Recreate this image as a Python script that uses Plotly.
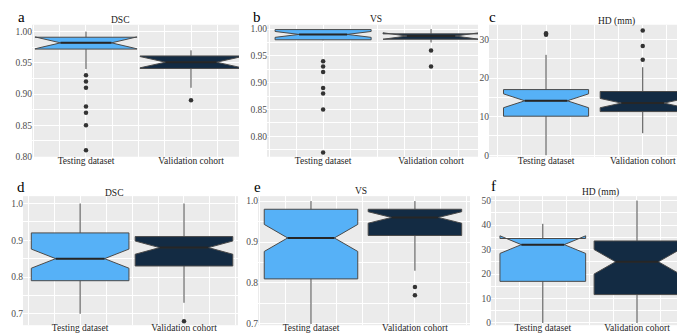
import plotly.graph_objects as go

# ---------------- data ----------------
categories = ["Testing dataset", "Validation cohort"]
positions = [1, 2]
panel_letters = ["a", "b", "c", "d", "e", "f"]
panel_titles = ["DSC", "VS", "HD (mm)", "DSC", "VS", "HD (mm)"]

# each list: [Testing dataset, Validation cohort]
a_lower = [0.94, 0.91]
a_q1 = [0.972, 0.941]
a_median = [0.982, 0.951]
a_q3 = [0.991, 0.961]
a_upper = [1.00, 0.97]
a_notch = [0.0095, 0.009]
a_out_test = [0.93, 0.92, 0.91, 0.88, 0.87, 0.85, 0.81]
a_out_val = [0.89]

b_lower = [0.979, 0.975]
b_q1 = [0.980, 0.981]
b_median = [0.990, 0.987]
b_q3 = [0.999, 0.991]
b_upper = [1.00, 1.00]
b_notch = [0.0055, 0.006]
b_out_test = [0.94, 0.93, 0.92, 0.89, 0.88, 0.85, 0.77]
b_out_val = [0.96, 0.93]

c_lower = [0.0, 5.7]
c_q1 = [10.1, 11.3]
c_median = [14.1, 13.5]
c_q3 = [17.0, 16.5]
c_upper = [26.0, 22.8]
c_notch = [1.8, 1.2]
c_out_test = [31.2, 31.6]
c_out_val = [24.7, 28.3, 32.3]

d_lower = [0.70, 0.73]
d_q1 = [0.79, 0.83]
d_median = [0.85, 0.88]
d_q3 = [0.92, 0.91]
d_upper = [1.00, 1.00]
d_notch = [0.026, 0.018]
d_out_test = []
d_out_val = [0.68]

e_lower = [0.70, 0.83]
e_q1 = [0.81, 0.916]
e_median = [0.91, 0.96]
e_q3 = [0.98, 0.98]
e_upper = [1.00, 1.00]
e_notch = [0.033, 0.014]
e_out_test = []
e_out_val = [0.79, 0.77]

f_lower = [0.0, 0.0]
f_q1 = [17.0, 11.6]
f_median = [32.0, 25.0]
f_q3 = [34.5, 33.5]
f_upper = [40.5, 50.0]
f_notch = [3.6, 5.0]
f_out_test = []
f_out_val = []

y_ticks_top = [0.80, 0.85, 0.90, 0.95, 1.00]
y_ticks_hd_top = [0, 10, 20, 30]
y_ticks_bottom = [0.7, 0.8, 0.9, 1.0]
y_ticks_hd_bottom = [0, 10, 20, 30, 40, 50]

panels = [
    dict(lo=a_lower, q1=a_q1, med=a_median, q3=a_q3, hi=a_upper, notch=a_notch, out=[a_out_test, a_out_val], ticks=y_ticks_top),
    dict(lo=b_lower, q1=b_q1, med=b_median, q3=b_q3, hi=b_upper, notch=b_notch, out=[b_out_test, b_out_val], ticks=y_ticks_top),
    dict(lo=c_lower, q1=c_q1, med=c_median, q3=c_q3, hi=c_upper, notch=c_notch, out=[c_out_test, c_out_val], ticks=y_ticks_hd_top),
    dict(lo=d_lower, q1=d_q1, med=d_median, q3=d_q3, hi=d_upper, notch=d_notch, out=[d_out_test, d_out_val], ticks=y_ticks_bottom),
    dict(lo=e_lower, q1=e_q1, med=e_median, q3=e_q3, hi=e_upper, notch=e_notch, out=[e_out_test, e_out_val], ticks=y_ticks_bottom),
    dict(lo=f_lower, q1=f_q1, med=f_median, q3=f_q3, hi=f_upper, notch=f_notch, out=[f_out_test, f_out_val], ticks=y_ticks_hd_bottom),
]

# ---------------- layout / style ----------------
W, H = 685, 335
fills = ["#56B1F7", "#132B43"]
FONT = "Liberation Serif"

# plot-area pixel boxes (x0, x1, y0_top, y1_bottom)
boxes_px = [
    (24, 231, 17, 151), (259, 470, 17, 151), (481, 685, 17, 151),
    (15, 230, 191, 322), (250, 462, 191, 322), (483, 677, 191, 322),
]
x_ranges = [[0.486, 2.457], [0.48, 2.435], [0.41, 2.52],
            [0.45, 2.52], [0.49, 2.53], [0.45, 2.51]]
y_ranges = [[0.7995, 1.011], [0.762, 1.008], [-0.4, 33.8],
            [0.669, 1.020], [0.697, 1.012], [-0.9, 51.8]]
box_widths = [0.97, 0.89, 0.88, 0.94, 0.90, 0.91]
tick_fmt = [".2f", ".2f", "d", ".1f", ".1f", "d"]
label_standoff = [-3, -3, -3, -5, -5, -5]
title_pos = [(112, 12), (368, 11.5), (608, 14), (106, 188), (353, 186), (592, 187)]
letter_pos = [(13, 9), (249, 9), (484, 9), (13, 182), (249, 182), (485, 181)]

fig = go.Figure()
layout = dict(
    width=W, height=H, margin=dict(l=0, r=0, t=0, b=0),
    paper_bgcolor="white", plot_bgcolor="#EBEBEB",
    showlegend=False, font=dict(family=FONT, color="#333333"),
    annotations=[],
)

for i, p in enumerate(panels):
    n = i + 1
    xa = "x" if n == 1 else f"x{n}"
    ya = "y" if n == 1 else f"y{n}"
    w = box_widths[i]
    for j in range(2):
        fig.add_trace(go.Box(
            x=[positions[j]], q1=[p["q1"][j]], median=[p["med"][j]], q3=[p["q3"][j]],
            lowerfence=[p["lo"][j]], upperfence=[p["hi"][j]],
            notched=True, notchspan=[p["notch"][j]], notchwidth=0.25,
            width=w, whiskerwidth=0,
            fillcolor=fills[j], line=dict(color="#4a4a4a", width=1),
            boxpoints=False, xaxis=xa, yaxis=ya, hoverinfo="skip",
        ))
        # thicker median bar (ggplot style)
        fig.add_trace(go.Scatter(
            x=[positions[j] - w / 4, positions[j] + w / 4],
            y=[p["med"][j], p["med"][j]], mode="lines",
            line=dict(color="#262626", width=2), xaxis=xa, yaxis=ya, hoverinfo="skip",
        ))
        if p["out"][j]:
            fig.add_trace(go.Scatter(
                x=[positions[j]] * len(p["out"][j]), y=p["out"][j], mode="markers",
                marker=dict(color="#333333", size=4.5), xaxis=xa, yaxis=ya, hoverinfo="skip",
            ))

    x0, x1, yt, yb = boxes_px[i]
    layout["xaxis" if n == 1 else f"xaxis{n}"] = dict(
        domain=[x0 / W, x1 / W], anchor=ya, range=x_ranges[i],
        tickvals=positions, ticktext=categories, ticks="",
        ticklabelstandoff=label_standoff[i],
        tickfont=dict(family=FONT, size=9.5, color="#262626"),
        showgrid=True, gridcolor="white", gridwidth=1,
        minor=dict(dtick=0.25, tick0=0, showgrid=True, gridcolor="white", gridwidth=0.6),
        zeroline=False, showline=False, fixedrange=True,
    )
    yt_vals = p["ticks"]
    step = yt_vals[1] - yt_vals[0]
    layout["yaxis" if n == 1 else f"yaxis{n}"] = dict(
        domain=[1 - yb / H, 1 - yt / H], anchor=xa, range=y_ranges[i],
        tickvals=yt_vals, tickformat=tick_fmt[i], ticks="",
        ticklabelstandoff=-1,
        tickfont=dict(family=FONT, size=9.5, color="#4D4D4D"),
        showgrid=True, gridcolor="white", gridwidth=1,
        minor=dict(tickvals=[(yt_vals[k] + yt_vals[k + 1]) / 2 for k in range(len(yt_vals) - 1)]
                   + [yt_vals[0] - step / 2, yt_vals[-1] + step / 2],
                   showgrid=True, gridcolor="white", gridwidth=0.6),
        zeroline=False, showline=False, fixedrange=True,
    )
    tx, ty = title_pos[i]
    layout["annotations"].append(dict(
        text=panel_titles[i], x=tx / W, y=1 - ty / H, xref="paper", yref="paper",
        xanchor="center", yanchor="middle", showarrow=False,
        font=dict(family=FONT, size=9.5, color="#1a1a1a"),
    ))
    lx, ly = letter_pos[i]
    layout["annotations"].append(dict(
        text=panel_letters[i], x=lx / W, y=1 - ly / H, xref="paper", yref="paper",
        xanchor="center", yanchor="middle", showarrow=False, borderpad=0,
        font=dict(family=FONT, size=15, color="black"),
    ))

fig.update_layout(**layout)
fig.write_html("out.html")
